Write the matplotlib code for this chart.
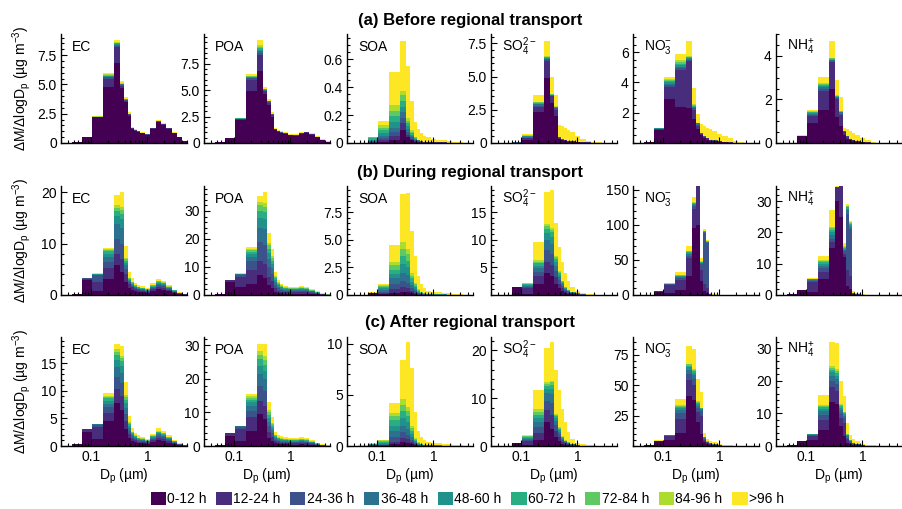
import numpy as np
import matplotlib
matplotlib.use("Agg")
import matplotlib.pyplot as plt
from matplotlib.patches import Patch
from matplotlib.ticker import FixedLocator, LogLocator, AutoMinorLocator, NullFormatter

plt.rcParams['font.family'] = ['Liberation Sans', 'DejaVu Sans']
plt.rcParams['mathtext.fontset'] = 'custom'
plt.rcParams['mathtext.rm'] = 'Liberation Sans'
plt.rcParams['mathtext.it'] = 'Liberation Sans:italic'
plt.rcParams['mathtext.bf'] = 'Liberation Sans:bold'

# size bin edges (um)
edges = [0.046, 0.071, 0.107, 0.165, 0.255, 0.325, 0.39, 0.45, 0.51, 0.58, 0.66,
         0.74, 0.91, 1.13, 1.4, 1.74, 2.15, 2.68, 3.3, 4.08, 5.0]
age_labels = ['0-12 h', '12-24 h', '24-36 h', '36-48 h', '48-60 h',
              '60-72 h', '72-84 h', '84-96 h', '>96 h']
species = ['EC', 'POA', 'SOA', 'SO$_4^{2-}$', 'NO$_3^{-}$', 'NH$_4^{+}$']
row_titles = ['(a) Before regional transport', '(b) During regional transport',
              '(c) After regional transport']

# one row per size bin: cumulative tops of the age classes (0-12 h ... >96 h).
# short rows: last value is the >96 h top, missing classes in between are empty
ec_a = [[0.1, 0.1], [0.5, 0.52], [2.2, 2.2, 2.21, 2.22, 2.23, 2.24, 2.26, 2.28, 2.32],
        [4.8, 5.5, 5.6, 5.65, 5.7, 5.75, 5.8, 5.85, 5.95], [6.8, 8.2, 8.3, 8.4, 8.45, 8.5, 8.55, 8.62, 8.8],
        [4.7, 4.9, 4.95, 5.0, 5.02, 5.04, 5.06, 5.1, 5.25], [3.5, 3.6, 3.65, 3.68, 3.7, 3.72, 3.74, 3.76, 3.9],
        [2.3, 2.4, 2.5, 2.62], [1.2, 1.25, 1.3, 1.38], [1.05, 1.1, 1.13, 1.18], [0.95, 0.98, 1.01, 1.05],
        [0.82, 0.85, 0.88, 0.9], [0.7, 0.72, 0.74, 0.76], [1.2, 1.24, 1.28, 1.32], [1.75, 1.83, 1.9, 1.95],
        [1.55, 1.62, 1.66, 1.7], [1.2, 1.25, 1.29, 1.32], [0.82, 0.85, 0.88, 0.9], [0.48, 0.5, 0.52], [0.2, 0.2]]
poa_a = [[0.05, 0.05], [0.45, 0.47], [2.2, 2.25, 2.27, 2.29, 2.31, 2.33, 2.35, 2.37, 2.4],
         [4.9, 6.0, 6.1, 6.15, 6.2, 6.25, 6.3, 6.35, 6.5], [6.8, 8.3, 8.5, 8.65, 8.8, 8.95, 9.1, 9.25, 9.7],
         [4.6, 4.9, 4.95, 5.0, 5.03, 5.06, 5.09, 5.12, 5.3], [3.6, 3.8, 3.9, 3.95, 4.2],
         [2.5, 2.65, 2.7, 2.75, 2.9], [1.25, 1.3, 1.33, 1.45], [1.05, 1.1, 1.13, 1.22], [0.95, 0.99, 1.02, 1.1],
         [0.85, 0.9, 0.93, 1.0], [0.72, 0.76, 0.79, 0.85], [0.7, 0.73, 0.76, 0.82], [0.88, 0.92, 0.95, 1.0],
         [0.95, 1.0, 1.03, 1.08], [0.8, 0.84, 0.87, 0.9], [0.55, 0.58, 0.6, 0.62], [0.3, 0.32, 0.35], [0.12, 0.15]]
soa_a = [[0.0, 0.0], [0.0, 0.005, 0.01, 0.015, 0.025, 0.035, 0.04, 0.04, 0.04],
         [0.01, 0.02, 0.035, 0.05, 0.07, 0.09, 0.11, 0.13, 0.16], [0.02, 0.05, 0.08, 0.11, 0.15, 0.19, 0.23, 0.27, 0.51],
         [0.09, 0.14, 0.18, 0.22, 0.26, 0.3, 0.34, 0.37, 0.73], [0.04, 0.06, 0.08, 0.1, 0.12, 0.14, 0.16, 0.18, 0.55],
         [0.02, 0.03, 0.04, 0.05, 0.06, 0.07, 0.08, 0.09, 0.3], [0.01, 0.015, 0.02, 0.025, 0.03, 0.035, 0.04, 0.045, 0.15],
         [0.005, 0.01, 0.015, 0.02, 0.1], [0.003, 0.006, 0.01, 0.015, 0.07], [0.002, 0.005, 0.008, 0.01, 0.05],
         [0.002, 0.004, 0.006, 0.008, 0.04], [0.002, 0.004, 0.006, 0.03], [0.002, 0.004, 0.006, 0.025],
         [0.002, 0.004, 0.02], [0.001, 0.003, 0.015], [0.001, 0.01], [0.0, 0.005], [0.0, 0.0], [0.0, 0.0]]
so4_a = [[0.0, 0.0], [0.01, 0.02, 0.03, 0.04, 0.05, 0.06, 0.07, 0.08, 0.1],
         [0.25, 0.35, 0.4, 0.45, 0.5, 0.53, 0.56, 0.59, 0.65], [2.3, 2.7, 2.8, 2.9, 2.95, 3.0, 3.05, 3.1, 3.6],
         [4.9, 6.2, 6.3, 6.35, 6.4, 6.45, 6.5, 6.55, 7.7], [3.0, 3.5, 3.55, 3.6, 3.62, 3.64, 3.66, 3.7, 5.0],
         [2.0, 2.5, 2.6, 2.65, 2.7, 2.72, 2.74, 2.76, 3.6], [0.3, 0.4, 0.45, 1.35], [0.2, 0.25, 0.3, 1.25],
         [0.15, 0.2, 0.22, 1.12], [0.1, 0.15, 0.17, 1.0], [0.08, 0.12, 0.14, 0.8], [0.05, 0.08, 0.1, 0.55],
         [0.03, 0.05, 0.07, 0.32], [0.02, 0.04, 0.16], [0.01, 0.02, 0.08], [0.01, 0.04], [0.0, 0.02],
         [0.0, 0.0], [0.0, 0.0]]
no3_a = [[0.05, 0.05], [0.85, 0.9, 0.92, 0.94, 0.96, 0.98, 1.0],
         [2.9, 3.7, 3.8, 3.9, 4.0, 4.1, 4.15, 4.2, 4.35], [2.4, 4.8, 4.95, 5.05, 5.15, 5.25, 5.35, 5.45, 5.85],
         [2.3, 5.4, 5.5, 5.55, 5.6, 5.65, 5.7, 5.75, 6.75], [1.6, 2.2, 2.3, 2.35, 2.4, 2.45, 2.5, 2.55, 3.65],
         [0.9, 1.1, 1.2, 1.3, 1.9], [0.5, 0.6, 0.65, 1.25], [0.3, 0.4, 0.45, 1.15], [0.2, 0.3, 0.33, 1.0],
         [0.15, 0.2, 0.22, 0.9], [0.1, 0.15, 0.17, 0.8], [0.06, 0.1, 0.12, 0.62], [0.04, 0.07, 0.08, 0.45],
         [0.02, 0.04, 0.3], [0.01, 0.02, 0.15], [0.01, 0.06], [0.0, 0.02], [0.0, 0.0], [0.0, 0.0]]
nh4_a = [[0.0, 0.0], [0.3, 0.33, 0.34, 0.35], [0.9, 1.25, 1.3, 1.35, 1.38, 1.41, 1.43, 1.45, 1.5],
         [1.5, 2.4, 2.5, 2.55, 2.6, 2.65, 2.7, 2.75, 3.03], [2.5, 3.7, 3.75, 3.8, 3.83, 3.86, 3.89, 3.92, 4.7],
         [1.2, 2.0, 2.05, 2.1, 2.12, 2.14, 2.16, 2.18, 2.9], [0.8, 1.3, 1.35, 1.4, 1.42, 1.44, 1.46, 1.48, 2.1],
         [0.35, 0.5, 0.55, 0.7], [0.2, 0.28, 0.3, 0.62], [0.12, 0.18, 0.2, 0.55], [0.08, 0.12, 0.14, 0.48],
         [0.05, 0.08, 0.1, 0.38], [0.03, 0.05, 0.06, 0.25], [0.02, 0.03, 0.12], [0.01, 0.02, 0.05],
         [0.0, 0.02], [0.0, 0.0], [0.0, 0.0], [0.0, 0.0], [0.0, 0.0]]

ec_b = [[0.2, 0.2], [3.0, 3.2, 3.25, 3.3], [0.8, 2.6, 3.8, 3.95, 4.0, 4.05, 4.1, 4.15, 4.2],
        [3.2, 5.2, 6.4, 7.3, 8.0, 8.5, 8.8, 8.95, 9.05], [5.8, 8.0, 10.8, 13.8, 15.3, 16.3, 17.0, 17.5, 19.5],
        [4.5, 7.0, 10.0, 13.0, 14.8, 15.8, 16.6, 17.2, 20.0], [2.5, 4.0, 5.0, 5.8, 6.3, 6.7, 7.0, 7.2, 9.6],
        [1.4, 2.1, 2.5, 2.8, 3.0, 3.15, 3.25, 3.35, 4.4], [1.0, 1.5, 1.8, 2.0, 2.2, 2.35, 2.45, 2.55, 3.3],
        [0.7, 1.1, 1.3, 1.5, 1.65, 1.75, 1.85, 1.95, 2.4], [0.6, 0.9, 1.1, 1.25, 1.38, 1.48, 1.58, 1.65, 2.0],
        [0.5, 0.8, 0.95, 1.1, 1.2, 1.3, 1.4, 1.45, 1.75], [0.4, 0.6, 0.75, 0.85, 0.95, 1.05, 1.12, 1.2, 1.4],
        [0.8, 1.1, 1.3, 1.5, 1.65, 1.8, 1.92, 2.02, 2.3], [1.2, 1.6, 1.9, 2.15, 2.35, 2.5, 2.65, 2.78, 3.1],
        [1.0, 1.4, 1.7, 1.9, 2.1, 2.25, 2.38, 2.48, 2.7], [0.7, 1.0, 1.2, 1.35, 1.45, 1.55, 1.63, 1.7, 1.85],
        [0.4, 0.55, 0.65, 0.75, 0.82, 0.88, 0.92, 0.95, 1.0], [0.2, 0.28, 0.33, 0.38, 0.42, 0.45, 0.47, 0.48, 0.5],
        [0.08, 0.12, 0.15, 0.17, 0.18, 0.19, 0.2]]
poa_b = [[0.3, 0.3], [4.5, 5.2, 5.3, 5.4], [3.0, 6.5, 7.3, 7.4, 7.45, 7.5, 7.55, 7.6, 7.7],
         [4.0, 9.0, 12.0, 13.5, 14.5, 15.3, 15.9, 16.4, 17.0], [7.0, 12.0, 19.0, 24.0, 27.5, 30.0, 32.0, 33.3, 35.5],
         [6.0, 11.0, 18.0, 23.5, 27.0, 29.5, 31.5, 33.0, 36.7], [3.5, 6.5, 10.0, 13.0, 15.0, 16.5, 17.7, 18.5, 22.0],
         [2.5, 5.0, 7.5, 9.5, 11.0, 12.3, 13.3, 14.0, 16.5], [1.2, 2.5, 3.7, 4.6, 5.3, 5.9, 6.4, 6.8, 8.2],
         [0.8, 1.6, 2.4, 3.0, 3.5, 3.9, 4.2, 4.5, 5.3], [0.6, 1.2, 1.8, 2.3, 2.7, 3.0, 3.25, 3.45, 4.0],
         [0.5, 1.0, 1.5, 1.9, 2.2, 2.45, 2.65, 2.8, 3.3], [0.45, 0.9, 1.35, 1.7, 2.0, 2.2, 2.4, 2.55, 3.0],
         [0.45, 0.9, 1.35, 1.7, 2.0, 2.2, 2.4, 2.55, 3.0], [0.5, 1.0, 1.5, 1.9, 2.2, 2.45, 2.65, 2.8, 3.3],
         [0.45, 0.9, 1.35, 1.7, 2.0, 2.2, 2.4, 2.55, 3.0], [0.35, 0.7, 1.0, 1.25, 1.45, 1.6, 1.75, 1.85, 2.2],
         [0.2, 0.4, 0.6, 0.75, 0.85, 0.95, 1.05, 1.1, 1.3], [0.1, 0.2, 0.28, 0.35, 0.4, 0.45, 0.5, 0.53, 0.6],
         [0.03, 0.06, 0.09, 0.12, 0.14, 0.16, 0.18, 0.19, 0.2]]
soa_b = [[0.02, 0.02], [0.15, 0.2, 0.22, 0.25], [0.1, 0.2, 0.3, 0.45, 0.6, 0.7, 0.8, 0.9, 1.0],
         [0.2, 0.5, 1.0, 1.5, 1.9, 2.3, 2.7, 3.0, 4.5], [0.3, 0.7, 1.3, 2.0, 2.8, 3.5, 4.2, 4.8, 9.2],
         [0.25, 0.6, 1.1, 1.8, 2.5, 3.1, 3.7, 4.2, 9.3], [0.15, 0.35, 0.6, 0.9, 1.2, 1.5, 1.75, 2.0, 5.8],
         [0.08, 0.2, 0.35, 0.5, 0.7, 0.85, 1.0, 1.1, 3.5], [0.04, 0.1, 0.15, 0.22, 0.3, 0.38, 0.45, 0.5, 1.7],
         [0.02, 0.05, 0.08, 0.12, 0.16, 0.2, 0.24, 0.27, 1.0], [0.01, 0.03, 0.05, 0.07, 0.1, 0.12, 0.14, 0.16, 0.6],
         [0.01, 0.02, 0.03, 0.05, 0.06, 0.07, 0.08, 0.09, 0.35], [0.01, 0.02, 0.03, 0.04, 0.05, 0.06, 0.07, 0.08, 0.3],
         [0.01, 0.02, 0.03, 0.04, 0.05, 0.06, 0.25], [0.01, 0.02, 0.03, 0.04, 0.05, 0.2],
         [0.01, 0.02, 0.03, 0.04, 0.15], [0.01, 0.02, 0.03, 0.1], [0.0, 0.01, 0.05], [0.0, 0.02], [0.0, 0.0]]
so4_b = [[0.0, 0.0], [1.4, 1.45, 1.5], [0.2, 1.2, 1.5, 1.7, 1.85, 1.95, 2.05, 2.15, 2.25],
         [1.9, 3.4, 4.2, 4.8, 5.3, 5.7, 6.0, 6.4, 9.5], [4.0, 6.0, 8.2, 10.0, 11.2, 12.0, 12.5, 12.8, 18.7],
         [3.5, 5.5, 7.5, 9.2, 10.5, 11.3, 11.8, 12.1, 19.0], [2.0, 3.2, 4.3, 5.3, 6.0, 6.5, 6.9, 7.1, 13.0],
         [1.2, 2.0, 2.7, 3.3, 3.7, 4.0, 4.2, 4.4, 8.6], [0.7, 1.2, 1.6, 1.9, 2.1, 2.3, 2.45, 2.55, 6.0],
         [0.4, 0.7, 0.9, 1.1, 1.25, 1.35, 1.45, 1.5, 4.0], [0.25, 0.45, 0.6, 0.7, 0.8, 0.87, 0.93, 0.97, 2.5],
         [0.15, 0.28, 0.38, 0.45, 0.5, 0.55, 0.58, 0.6, 1.5], [0.08, 0.15, 0.2, 0.25, 0.28, 0.3, 0.32, 0.33, 0.8],
         [0.04, 0.08, 0.11, 0.13, 0.15, 0.16, 0.17, 0.4], [0.02, 0.04, 0.06, 0.07, 0.2], [0.01, 0.02, 0.03, 0.2],
         [0.01, 0.05], [0.0, 0.02], [0.0, 0.0], [0.0, 0.0]]
no3_b = [[0.5, 0.5], [4.0, 5.0, 5.2], [3.0, 14.5, 15.2, 15.6, 15.9, 16.1, 16.3, 16.4, 16.6],
         [7.0, 22.0, 24.0, 25.5, 26.5, 27.3, 28.0, 28.5, 32.0], [27.0, 52.0, 55.0, 58.0, 60.0, 61.5, 62.5, 63.0, 70.0],
         [95.0, 123.0, 126.0, 128.0, 129.5, 130.5, 131.5, 132.0, 140.0], [100.0, 156.0, 156.0],
         [20.0, 35.0, 44.0, 45.0, 46.0, 47.0, 47.5, 48.0, 52.0], [5.0, 15.0, 88.0, 89.0, 90.0, 90.5, 91.0, 91.5, 94.0],
         [3.0, 10.0, 74.0, 75.0, 75.5, 76.0, 76.5, 77.0, 78.0], [0.5, 1.0, 2.0, 3.0], [0.2, 0.5, 1.0],
         [0.1, 0.2, 0.5], [0.1, 0.3], [0.0, 0.1], [0.0, 0.0], [0.0, 0.0], [0.0, 0.0], [0.0, 0.0], [0.0, 0.0]]
nh4_b = [[0.2, 0.2], [1.5, 1.7, 1.75], [1.0, 4.0, 4.5, 4.8, 5.0, 5.1, 5.2, 5.25, 5.4],
         [5.0, 7.5, 8.5, 9.3, 9.9, 10.4, 10.8, 11.1, 12.5], [15.0, 17.0, 18.0, 19.0, 20.0, 20.7, 21.3, 21.8, 27.0],
         [30.0, 34.5, 35.5], [25.0, 35.5, 35.5], [12.0, 13.0, 14.0, 14.5, 14.8, 15.0, 15.2, 15.5, 16.5],
         [3.0, 8.0, 26.0, 27.0, 27.5, 28.0, 28.3, 28.5, 29.0], [2.0, 6.0, 21.0, 21.8, 22.3, 22.7, 23.0, 23.2, 23.6],
         [0.2, 0.4, 0.6, 1.2], [0.1, 0.2, 0.5], [0.05, 0.1, 0.2], [0.0, 0.0], [0.0, 0.0], [0.0, 0.0],
         [0.0, 0.0], [0.0, 0.0], [0.0, 0.0], [0.0, 0.0]]

ec_c = [[0.3, 0.3], [2.5, 3.0, 3.1, 3.15], [1.2, 3.4, 3.8, 3.95, 4.0, 4.05],
        [4.5, 6.0, 7.0, 7.6, 8.2, 8.6, 8.9, 9.1, 9.5], [7.7, 10.3, 12.5, 14.3, 15.6, 16.4, 17.0, 17.5, 18.5],
        [6.5, 9.0, 11.3, 13.2, 14.5, 15.3, 15.9, 16.3, 18.0], [3.0, 4.5, 5.8, 6.9, 7.7, 8.3, 8.8, 9.2, 11.5],
        [1.5, 2.2, 2.8, 3.3, 3.6, 3.9, 4.1, 4.3, 5.5], [0.9, 1.3, 1.6, 1.9, 2.1, 2.3, 2.45, 2.6, 3.2],
        [0.7, 1.0, 1.25, 1.45, 1.6, 1.72, 1.82, 1.9, 2.4], [0.55, 0.8, 1.0, 1.15, 1.28, 1.38, 1.46, 1.52, 1.9],
        [0.5, 0.72, 0.9, 1.03, 1.14, 1.22, 1.3, 1.36, 1.65], [0.4, 0.58, 0.72, 0.83, 0.92, 0.99, 1.05, 1.1, 1.3],
        [0.7, 1.0, 1.25, 1.45, 1.6, 1.72, 1.82, 1.9, 2.2], [1.0, 1.45, 1.8, 2.08, 2.3, 2.48, 2.62, 2.74, 3.2],
        [0.9, 1.3, 1.6, 1.85, 2.05, 2.2, 2.32, 2.42, 2.8], [0.6, 0.88, 1.1, 1.28, 1.42, 1.52, 1.6, 1.66, 1.9],
        [0.35, 0.5, 0.62, 0.72, 0.8, 0.86, 0.91, 0.95, 1.1], [0.15, 0.22, 0.28, 0.33, 0.37, 0.4, 0.42, 0.44, 0.5],
        [0.06, 0.09, 0.11, 0.13, 0.15, 0.16, 0.17, 0.18, 0.2]]
poa_c = [[0.3, 0.3], [3.0, 3.9, 4.0], [1.5, 5.0, 5.8, 6.0, 6.1],
         [4.5, 8.5, 10.5, 12.0, 13.0, 13.8, 14.4, 14.9, 15.5], [9.5, 13.5, 18.0, 21.5, 24.0, 25.8, 27.2, 28.2, 30.5],
         [8.0, 12.0, 16.5, 20.0, 22.5, 24.3, 25.7, 26.7, 30.3], [2.5, 4.2, 5.9, 7.3, 8.4, 9.3, 10.0, 10.6, 13.0],
         [1.6, 2.8, 3.9, 4.8, 5.5, 6.0, 6.5, 6.9, 8.5], [0.8, 1.4, 1.9, 2.3, 2.65, 2.95, 3.2, 3.4, 4.3],
         [0.6, 1.05, 1.45, 1.78, 2.05, 2.28, 2.47, 2.63, 3.3], [0.5, 0.9, 1.25, 1.55, 1.8, 2.0, 2.17, 2.3, 2.9],
         [0.45, 0.83, 1.15, 1.43, 1.66, 1.85, 2.0, 2.12, 2.7], [0.42, 0.78, 1.08, 1.33, 1.55, 1.72, 1.86, 1.97, 2.5],
         [0.42, 0.78, 1.08, 1.33, 1.55, 1.72, 1.86, 1.97, 2.5], [0.48, 0.88, 1.22, 1.5, 1.74, 1.93, 2.09, 2.22, 2.8],
         [0.42, 0.78, 1.08, 1.33, 1.55, 1.72, 1.86, 1.97, 2.5], [0.3, 0.55, 0.77, 0.95, 1.1, 1.22, 1.32, 1.4, 1.7],
         [0.17, 0.31, 0.43, 0.53, 0.62, 0.69, 0.75, 0.8, 1.0], [0.08, 0.15, 0.21, 0.26, 0.3, 0.33, 0.36, 0.38, 0.5],
         [0.03, 0.06, 0.08, 0.1, 0.12, 0.13, 0.14, 0.15, 0.2]]
soa_c = [[0.0, 0.0, 0.01, 0.02, 0.03, 0.04, 0.05], [0.02, 0.05, 0.08, 0.12, 0.16, 0.2, 0.22, 0.24, 0.25],
         [0.03, 0.07, 0.12, 0.2, 0.3, 0.4, 0.48, 0.54, 0.6], [0.15, 0.4, 0.9, 1.5, 2.0, 2.5, 2.9, 3.2, 4.2],
         [0.4, 0.8, 1.4, 2.0, 2.7, 3.4, 4.0, 4.6, 8.4], [0.3, 0.65, 1.1, 1.7, 2.3, 2.9, 3.4, 3.8, 10.2],
         [0.15, 0.35, 0.6, 0.9, 1.2, 1.5, 1.75, 1.95, 7.6], [0.06, 0.15, 0.25, 0.38, 0.5, 0.62, 0.72, 0.8, 3.3],
         [0.03, 0.07, 0.12, 0.18, 0.24, 0.29, 0.33, 0.36, 1.5], [0.02, 0.04, 0.07, 0.1, 0.13, 0.16, 0.18, 0.2, 0.9],
         [0.01, 0.03, 0.05, 0.07, 0.09, 0.11, 0.12, 0.13, 0.6], [0.01, 0.02, 0.03, 0.05, 0.06, 0.07, 0.08, 0.09, 0.4],
         [0.01, 0.02, 0.03, 0.04, 0.05, 0.06, 0.3], [0.01, 0.02, 0.03, 0.04, 0.05, 0.28],
         [0.01, 0.02, 0.03, 0.04, 0.22], [0.01, 0.02, 0.03, 0.16], [0.01, 0.02, 0.1], [0.0, 0.01, 0.05],
         [0.0, 0.02], [0.0, 0.0]]
so4_c = [[0.0, 0.0], [0.7, 0.72], [0.3, 1.0, 1.3, 1.55, 1.75, 1.9, 2.0, 2.1, 2.2],
         [1.2, 2.7, 4.0, 5.0, 5.8, 6.5, 7.1, 7.7, 11.8], [5.0, 7.5, 9.5, 11.0, 12.0, 12.6, 13.0, 13.3, 20.5],
         [3.5, 6.5, 9.0, 10.8, 12.0, 12.8, 13.3, 13.6, 21.8], [1.8, 3.2, 4.3, 5.2, 5.8, 6.2, 6.5, 6.7, 16.0],
         [1.0, 1.8, 2.5, 3.0, 3.4, 3.6, 3.8, 3.9, 11.8], [0.5, 0.9, 1.2, 1.5, 1.7, 1.85, 1.95, 2.0, 7.8],
         [0.3, 0.55, 0.75, 0.9, 1.0, 1.1, 1.15, 1.2, 5.0], [0.2, 0.35, 0.48, 0.58, 0.65, 0.7, 0.74, 0.77, 2.9],
         [0.1, 0.2, 0.28, 0.34, 0.38, 0.41, 0.43, 0.45, 1.5], [0.05, 0.1, 0.14, 0.17, 0.19, 0.2, 0.6],
         [0.03, 0.06, 0.08, 0.1, 0.4], [0.02, 0.04, 0.05, 0.25], [0.01, 0.02, 0.15], [0.0, 0.01, 0.06],
         [0.0, 0.0], [0.0, 0.0], [0.0, 0.0]]
no3_c = [[0.5, 0.5], [4.5, 4.7], [5.0, 8.0, 8.6, 9.0, 9.2, 9.4],
         [11.0, 22.0, 27.0, 29.5, 31.0, 32.0, 32.7, 33.3, 38.6], [41.0, 54.0, 59.0, 62.0, 64.5, 66.0, 67.0, 67.7, 82.0],
         [38.0, 50.0, 55.0, 58.0, 60.0, 61.5, 62.5, 63.2, 80.0], [20.0, 28.0, 31.0, 33.0, 34.5, 35.5, 36.2, 36.8, 55.0],
         [10.0, 25.0, 29.0, 30.0, 30.5, 31.0, 31.3, 31.5, 44.0], [3.0, 5.0, 6.0, 6.5, 7.0, 7.3, 7.5, 7.7, 11.0],
         [1.5, 2.5, 3.0, 3.3, 3.5, 3.6, 3.7, 3.8, 6.0], [1.0, 1.6, 1.9, 2.1, 2.2, 2.3, 2.4, 2.5, 4.5],
         [0.6, 1.0, 1.2, 1.3, 1.4, 1.45, 1.5, 1.55, 3.0], [0.3, 0.5, 0.6, 0.7, 0.75, 0.8, 1.8],
         [0.15, 0.25, 0.3, 0.35, 1.0], [0.1, 0.15, 0.2, 0.5], [0.05, 0.1, 0.3], [0.0, 0.05, 0.1],
         [0.0, 0.0], [0.0, 0.0], [0.0, 0.0]]
nh4_c = [[0.2, 0.2], [1.5, 1.55], [1.7, 3.0, 3.3, 3.5, 3.6, 3.7],
         [5.0, 8.0, 9.5, 10.6, 11.4, 12.0, 12.4, 12.7, 15.6], [13.6, 18.0, 20.0, 21.5, 22.6, 23.4, 24.0, 24.5, 31.9],
         [13.0, 17.0, 19.0, 20.5, 21.6, 22.4, 23.0, 23.5, 31.5], [6.0, 8.5, 10.0, 11.0, 11.7, 12.2, 12.6, 12.9, 20.0],
         [3.0, 7.0, 8.5, 9.3, 9.8, 10.1, 10.3, 10.5, 15.4], [1.0, 2.0, 2.6, 3.0, 3.3, 3.5, 3.65, 3.75, 7.0],
         [0.5, 1.0, 1.3, 1.5, 1.65, 1.75, 1.82, 1.87, 3.5], [0.3, 0.6, 0.75, 0.85, 0.92, 0.97, 1.0, 1.02, 2.0],
         [0.2, 0.4, 0.5, 0.56, 0.6, 0.63, 1.4], [0.1, 0.2, 0.25, 0.28, 0.3, 0.7], [0.05, 0.1, 0.13, 0.4],
         [0.02, 0.05, 0.2], [0.0, 0.02, 0.08], [0.0, 0.0], [0.0, 0.0], [0.0, 0.0], [0.0, 0.0]]

panels = [[ec_a, poa_a, soa_a, so4_a, no3_a, nh4_a],
          [ec_b, poa_b, soa_b, so4_b, no3_b, nh4_b],
          [ec_c, poa_c, soa_c, so4_c, no3_c, nh4_c]]

ylims = [[9.3, 10.3, 0.78, 8.2, 7.2, 5.0],
         [21.2, 38.9, 9.9, 19.7, 155, 34.8],
         [19.7, 32.5, 10.65, 22.8, 89.5, 33.4]]
yticks = [[['0', '2.5', '5.0', '7.5'], ['0', '2.5', '5.0', '7.5'], ['0', '0.2', '0.4', '0.6'],
           ['0', '2.5', '5.0', '7.5'], ['2', '4', '6'], ['0', '2', '4']],
          [['0', '10', '20'], ['0', '10', '20', '30'], ['0', '2.5', '5.0', '7.5'],
           ['5', '10', '15'], ['0', '50', '100', '150'], ['0', '10', '20', '30']],
          [['0', '5', '10', '15'], ['0', '10', '20', '30'], ['0', '5', '10'],
           ['0', '10', '20'], ['25', '50', '75'], ['0', '10', '20', '30']]]

colors = plt.cm.viridis(np.linspace(0, 1, 9))


def expand(row):
    row = list(row)
    if len(row) < 9:
        row = row[:-1] + [row[-2]] * (9 - len(row)) + [row[-1]]
    return row


W, H = 902, 509
fig = plt.figure(figsize=(W / 100, H / 100), dpi=100)
col_left = [61, 204, 347, 491, 633, 776]
row_top = [34, 186, 337]
aw, ah = 126, 109

for r in range(3):
    for c in range(6):
        ax = fig.add_axes([col_left[c] / W, 1 - (row_top[r] + ah) / H, aw / W, ah / H])
        cum = np.array([expand(row) for row in panels[r][c]])
        cum = np.maximum.accumulate(cum, axis=1)
        base = np.zeros(len(cum))
        for k in range(9):
            ax.stairs(cum[:, k], edges, baseline=base, fill=True,
                      color=colors[k], linewidth=0)
            base = cum[:, k]
        ax.set_xscale('log')
        ax.set_xlim(0.03, 5)
        ax.set_ylim(0, ylims[r][c])
        ax.xaxis.set_major_locator(FixedLocator([0.1, 1]))
        ax.xaxis.set_minor_locator(LogLocator(base=10, subs=np.arange(2, 10)))
        ax.xaxis.set_minor_formatter(NullFormatter())
        if r == 2:
            ax.set_xticklabels(['0.1', '1'])
            ax.set_xlabel('D$_\\mathrm{p}$ (µm)', fontsize=10, labelpad=2)
        else:
            ax.set_xticklabels([])
        labs = yticks[r][c]
        ax.set_yticks([float(s) for s in labs])
        ax.set_yticklabels(labs)
        ax.yaxis.set_minor_locator(AutoMinorLocator())
        ax.tick_params(which='both', direction='in', labelsize=10, width=0.8, color='black', pad=3)
        ax.tick_params(which='major', length=4)
        ax.tick_params(which='minor', length=2)
        for s in ['top', 'right']:
            ax.spines[s].set_visible(False)
        for s in ['left', 'bottom']:
            ax.spines[s].set_linewidth(1.0)
        ax.text(0.09, 0.88, species[c], transform=ax.transAxes, fontsize=10, va='center', ha='left')

    fig.text(0.521, 1 - [20, 172, 322][r] / H, row_titles[r], ha='center', va='center',
             fontsize=12, fontweight='bold')
    fig.text(22 / W, 1 - (row_top[r] + ah / 2) / H, 'ΔM/ΔlogD$_\\mathrm{p}$ (µg m$^{-3}$)',
             rotation=90, ha='center', va='center', fontsize=10)

handles = [Patch(facecolor=colors[k], edgecolor='none') for k in range(9)]
fig.legend(handles, age_labels, loc='center', bbox_to_anchor=(0.518, 1 - 499 / H), ncol=9,
           frameon=False, fontsize=10, handlelength=1.1, handleheight=1.1,
           handletextpad=0.1, columnspacing=0.7, borderpad=0)

fig.savefig('out.png', dpi=100)
